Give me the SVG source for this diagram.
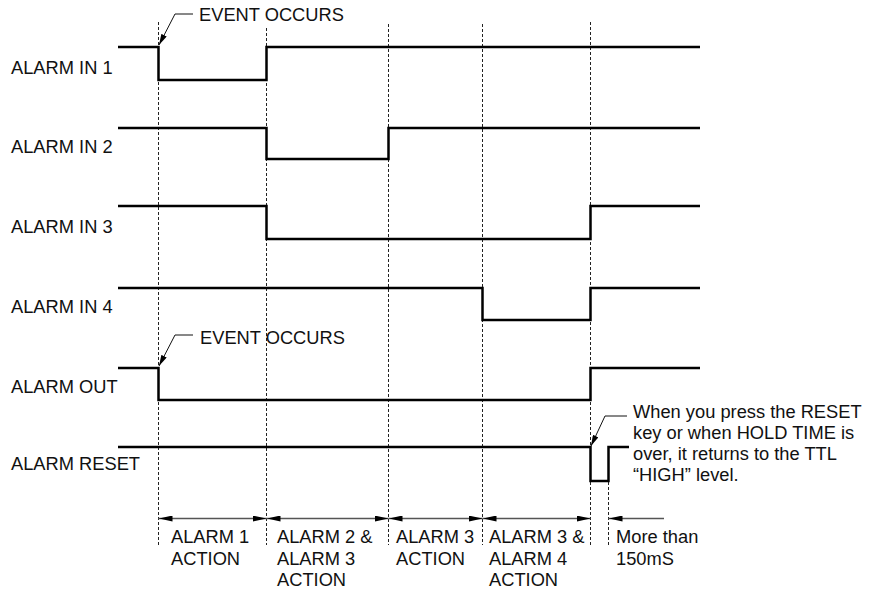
<svg xmlns="http://www.w3.org/2000/svg" width="878" height="589" viewBox="0 0 878 589">
<style>
text{font-family:"Liberation Sans",Arial,sans-serif;font-size:18.3px;fill:#111}
.sig{fill:none;stroke:#000;stroke-width:2.5;stroke-linejoin:miter}
.grid{stroke:#222;stroke-width:1;stroke-dasharray:3 2;fill:none}
.dim{stroke:#555;stroke-width:1.3;fill:none}
.lead{stroke:#111;stroke-width:1;fill:none}
</style>
<defs>
<marker id="ah" viewBox="0 0 14 6" refX="14" refY="3" markerWidth="14" markerHeight="6" markerUnits="userSpaceOnUse" orient="auto-start-reverse">
<path d="M0,0 L14,3 L0,6 Z" fill="#000"/>
</marker>
<marker id="lh" viewBox="0 0 11 6" refX="11" refY="3" markerWidth="11" markerHeight="6" markerUnits="userSpaceOnUse" orient="auto">
<path d="M0,0 L11,3 L0,6 Z" fill="#000"/>
</marker>
</defs>
<g id="grid">
<line class="grid" x1="158.5" y1="22" x2="158.5" y2="545"/>
<line class="grid" x1="266.5" y1="28" x2="266.5" y2="545"/>
<line class="grid" x1="388.5" y1="24" x2="388.5" y2="545"/>
<line class="grid" x1="482.5" y1="24" x2="482.5" y2="545"/>
<line class="grid" x1="590.5" y1="22" x2="590.5" y2="545"/>
<line class="grid" x1="608.5" y1="482" x2="608.5" y2="545"/>
</g>
<g id="alarm-in-1"><text x="11" y="74">ALARM IN 1</text><path class="sig" d="M118,47 H158.5 V80 H266.5 V47 H700"/></g>
<g id="alarm-in-2"><text x="11" y="153">ALARM IN 2</text><path class="sig" d="M118,128 H266.5 V159 H388.5 V128 H700"/></g>
<g id="alarm-in-3"><text x="11" y="233">ALARM IN 3</text><path class="sig" d="M118,206 H266.5 V239 H590.5 V206 H700"/></g>
<g id="alarm-in-4"><text x="11" y="313">ALARM IN 4</text><path class="sig" d="M118,288 H482.5 V320 H590.5 V288 H700"/></g>
<g id="alarm-out"><text x="11" y="393">ALARM OUT</text><path class="sig" d="M118,368 H158.5 V400 H590.5 V368 H700"/></g>
<g id="alarm-reset"><text x="11" y="470">ALARM RESET</text><path class="sig" d="M118,447 H590.5 V481 H608.5 V447 H629"/></g>
<g id="event1"><text x="199" y="21">EVENT OCCURS</text><path class="lead" d="M193,14 H175 L159,45" marker-end="url(#lh)"/></g>
<g id="event2"><text x="200" y="344">EVENT OCCURS</text><path class="lead" d="M193,335 H175 L159,366" marker-end="url(#lh)"/></g>
<g id="reset-note">
<path class="lead" d="M627,416 H605 L591,446" marker-end="url(#lh)"/>
<text x="633" y="418">When you press the RESET</text>
<text x="633" y="439">key or when HOLD TIME is</text>
<text x="633" y="460">over, it returns to the TTL</text>
<text x="633" y="481">“HIGH” level.</text>
</g>
<g id="connectors">
<line class="dim" x1="158.5" y1="518.5" x2="266.5" y2="518.5" marker-start="url(#ah)" marker-end="url(#ah)"/>
<line class="dim" x1="266.5" y1="518.5" x2="388.5" y2="518.5" marker-start="url(#ah)" marker-end="url(#ah)"/>
<line class="dim" x1="388.5" y1="518.5" x2="482.5" y2="518.5" marker-start="url(#ah)" marker-end="url(#ah)"/>
<line class="dim" x1="482.5" y1="518.5" x2="590.5" y2="518.5" marker-start="url(#ah)" marker-end="url(#ah)"/>
<line class="dim" x1="608.5" y1="518.5" x2="664" y2="518.5" marker-start="url(#ah)"/>
</g>
<g id="labels">
<text x="171" y="543">ALARM 1</text><text x="171" y="565">ACTION</text>
<text x="277" y="543">ALARM 2 &amp;</text><text x="277" y="565">ALARM 3</text><text x="277" y="586">ACTION</text>
<text x="396" y="543">ALARM 3</text><text x="396" y="565">ACTION</text>
<text x="489" y="543">ALARM 3 &amp;</text><text x="489" y="565">ALARM 4</text><text x="489" y="586">ACTION</text>
<text x="616" y="543">More than</text><text x="616" y="565">150mS</text>
</g>
</svg>
